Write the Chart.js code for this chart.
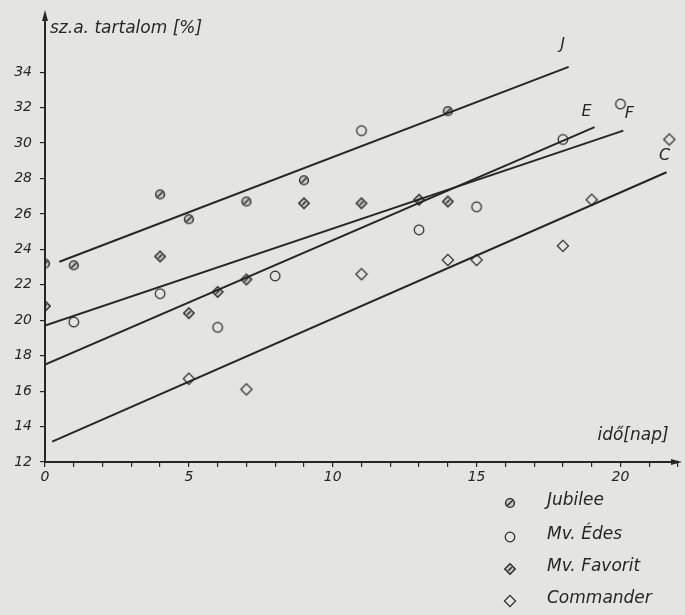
<!DOCTYPE html>
<html><head><meta charset="utf-8">
<script src="https://cdn.jsdelivr.net/npm/chart.js@4.4.1/dist/chart.umd.min.js"></script>
<style>html,body{margin:0;padding:0;background:#e4e5e1;}#wrap{width:685px;height:615px;position:relative;overflow:hidden}</style>
</head><body><div id="wrap"><canvas id="c" width="685" height="615"></canvas></div>
<script>
// ---- data ----
const xTickLabels = [0, 5, 10, 15, 20];
const yTickLabels = [12, 14, 16, 18, 20, 22, 24, 26, 28, 30, 32, 34];

const jubileeX = [0, 1, 4, 5, 7, 9, 14];
const jubileeY = [23.2, 23.1, 27.1, 25.7, 26.7, 27.9, 31.8];

const edesX = [1, 4, 6, 8, 11, 13, 15, 18, 20];
const edesY = [19.9, 21.5, 19.6, 22.5, 30.7, 25.1, 26.4, 30.2, 32.2];

const favoritX = [0, 4, 5, 6, 7, 9, 11, 13, 14];
const favoritY = [20.8, 23.6, 20.4, 21.6, 22.3, 26.6, 26.6, 26.8, 26.7];

const commanderX = [5, 7, 11, 14, 15, 18, 19, 21.7];
const commanderY = [16.7, 16.1, 22.6, 23.4, 23.4, 24.2, 26.8, 30.2];

// fitted lines (start / end as drawn)
const lineJX = [0.5, 18.2], lineJY = [23.3, 34.3];
const lineEX = [0, 19.1],   lineEY = [17.5, 30.9];
const lineFX = [0, 20.1],   lineFY = [19.7, 30.7];
const lineCX = [0.25, 21.6], lineCY = [13.15, 28.35];
const lineNames = ['J', 'E', 'F', 'C'];

const seriesNames = ['Jubilee', 'Mv. Édes', 'Mv. Favorit', 'Commander'];
const yTitle = 'sz.a. tartalom [%]';
const xTitle = 'idő[nap]';

// ---- styling ----
const INK = '#262626';
const BG = '#e4e5e1';
const FONT = '"DejaVu Sans", sans-serif';

function mk(draw) {
  const s = 16, c = document.createElement('canvas');
  c.width = s; c.height = s;
  const g = c.getContext('2d');
  g.translate(s / 2, s / 2);
  g.strokeStyle = INK; g.fillStyle = INK;
  draw(g);
  return c;
}
const mJub = mk(g => {
  g.lineWidth = 1.4;
  g.beginPath(); g.arc(0, 0, 4.4, 0, Math.PI * 2);
  g.fillStyle = 'rgba(0,0,0,0.12)'; g.fill(); g.stroke();
  g.beginPath(); g.moveTo(-2.6, 2.6); g.lineTo(2.6, -2.6); g.stroke();
});
const mEdes = mk(g => {
  g.lineWidth = 1.2;
  g.beginPath(); g.arc(0, 0, 4.8, 0, Math.PI * 2); g.stroke();
});
const mFav = mk(g => {
  g.lineWidth = 1.4;
  g.beginPath(); g.moveTo(0, -5.2); g.lineTo(5.2, 0); g.lineTo(0, 5.2); g.lineTo(-5.2, 0); g.closePath();
  g.fillStyle = 'rgba(0,0,0,0.12)'; g.fill(); g.stroke();
  g.beginPath(); g.moveTo(-1.8, 1.8); g.lineTo(1.8, -1.8); g.stroke();
});
const mCom = mk(g => {
  g.lineWidth = 1.15;
  g.beginPath(); g.moveTo(0, -5.6); g.lineTo(5.6, 0); g.lineTo(0, 5.6); g.lineTo(-5.6, 0); g.closePath(); g.stroke();
});
const markers = [mJub, mEdes, mFav, mCom];

const pts = (xs, ys) => xs.map((x, i) => ({ x: x, y: ys[i] }));

const lineDs = (xs, ys) => ({
  type: 'scatter', data: pts(xs, ys), showLine: true, borderColor: INK,
  borderWidth: 2, pointRadius: 0, fill: false, order: 2
});
const ptDs = (label, xs, ys, m) => ({
  type: 'scatter', label: label, data: pts(xs, ys), pointStyle: m,
  pointRadius: 6, showLine: false, order: 1
});

const lineEnds = [[lineJX, lineJY, -6, -22], [lineEX, lineEY, -8, -15], [lineFX, lineFY, 6, -17], [lineCX, lineCY, -2, -16]];

const deco = {
  id: 'deco',
  beforeDraw(chart) {
    const ctx = chart.ctx;
    ctx.save(); ctx.fillStyle = BG; ctx.fillRect(0, 0, chart.width, chart.height); ctx.restore();
  },
  afterDraw(chart) {
    const ctx = chart.ctx, a = chart.chartArea;
    const xs = chart.scales.x, ys = chart.scales.y;
    ctx.save();
    ctx.fillStyle = INK; ctx.strokeStyle = INK;
    // arrows
    ctx.beginPath(); ctx.moveTo(a.left, a.top - 9); ctx.lineTo(a.left - 3, a.top + 2); ctx.lineTo(a.left + 3, a.top + 2); ctx.closePath(); ctx.fill();
    ctx.beginPath(); ctx.moveTo(a.right + 4, a.bottom); ctx.lineTo(a.right - 7, a.bottom - 3); ctx.lineTo(a.right - 7, a.bottom + 3); ctx.closePath(); ctx.fill();
    // axis titles
    ctx.font = 'italic 17px ' + FONT;
    ctx.textBaseline = 'alphabetic'; ctx.textAlign = 'left';
    ctx.fillText(yTitle, a.left + 5, 33);
    ctx.fillText(xTitle, xs.getPixelForValue(19.2), ys.getPixelForValue(12) - 22);
    // line labels near their ends
    ctx.font = 'italic 16px ' + FONT;
    lineEnds.forEach((le, i) => {
      const px = xs.getPixelForValue(le[0][1]) + le[2];
      const py = ys.getPixelForValue(le[1][1]) + le[3];
      ctx.textAlign = 'center'; ctx.textBaseline = 'middle';
      ctx.fillText(lineNames[i], px, py);
    });
    // legend
    ctx.textAlign = 'left'; ctx.textBaseline = 'middle';
    ctx.font = 'italic 17px ' + FONT;
    const rows = [501, 535, 567, 599];
    seriesNames.forEach((n, i) => {
      const m = markers[i];
      ctx.drawImage(m, 510 - m.width / 2, rows[i] + 2 - m.height / 2);
      ctx.fillText(n, 547, rows[i]);
    });
    ctx.restore();
  }
};

new Chart(document.getElementById('c'), {
  type: 'scatter',
  data: {
    datasets: [
      ptDs(seriesNames[0], jubileeX, jubileeY, mJub),
      ptDs(seriesNames[1], edesX, edesY, mEdes),
      ptDs(seriesNames[2], favoritX, favoritY, mFav),
      ptDs(seriesNames[3], commanderX, commanderY, mCom),
      lineDs(lineJX, lineJY),
      lineDs(lineEX, lineEY),
      lineDs(lineFX, lineFY),
      lineDs(lineCX, lineCY)
    ]
  },
  options: {
    responsive: false, animation: false, devicePixelRatio: 1,
    layout: { padding: { top: 19, right: 4, left: 0, bottom: 0 } },
    plugins: { legend: { display: false }, tooltip: { enabled: false } },
    scales: {
      x: {
        type: 'linear', min: 0, max: 22, position: 'bottom',
        border: { color: INK, width: 2 },
        grid: { drawOnChartArea: false, drawTicks: true, tickLength: 5, color: INK, lineWidth: 1.2 },
        ticks: {
          stepSize: 1, autoSkip: false, maxRotation: 0, padding: 2, color: INK,
          font: { family: FONT, size: 14, style: 'italic' },
          callback: v => xTickLabels.includes(v) ? String(v) : ''
        },
        afterFit: s => { s.height = 153; }
      },
      y: {
        type: 'linear', min: 12, max: 37,
        border: { color: INK, width: 2 },
        grid: { drawOnChartArea: false, drawTicks: true, tickLength: 5, color: INK, lineWidth: 1.2 },
        ticks: {
          stepSize: 2, autoSkip: false, padding: 8, color: INK,
          font: { family: FONT, size: 14, style: 'italic' },
          callback: v => yTickLabels.includes(v) ? String(v) : ''
        },
        afterBuildTicks: s => { s.ticks = s.ticks.filter(t => yTickLabels.includes(t.value)); },
        afterFit: s => { s.width = 45; }
      }
    }
  },
  plugins: [deco]
});
</script></body></html>
